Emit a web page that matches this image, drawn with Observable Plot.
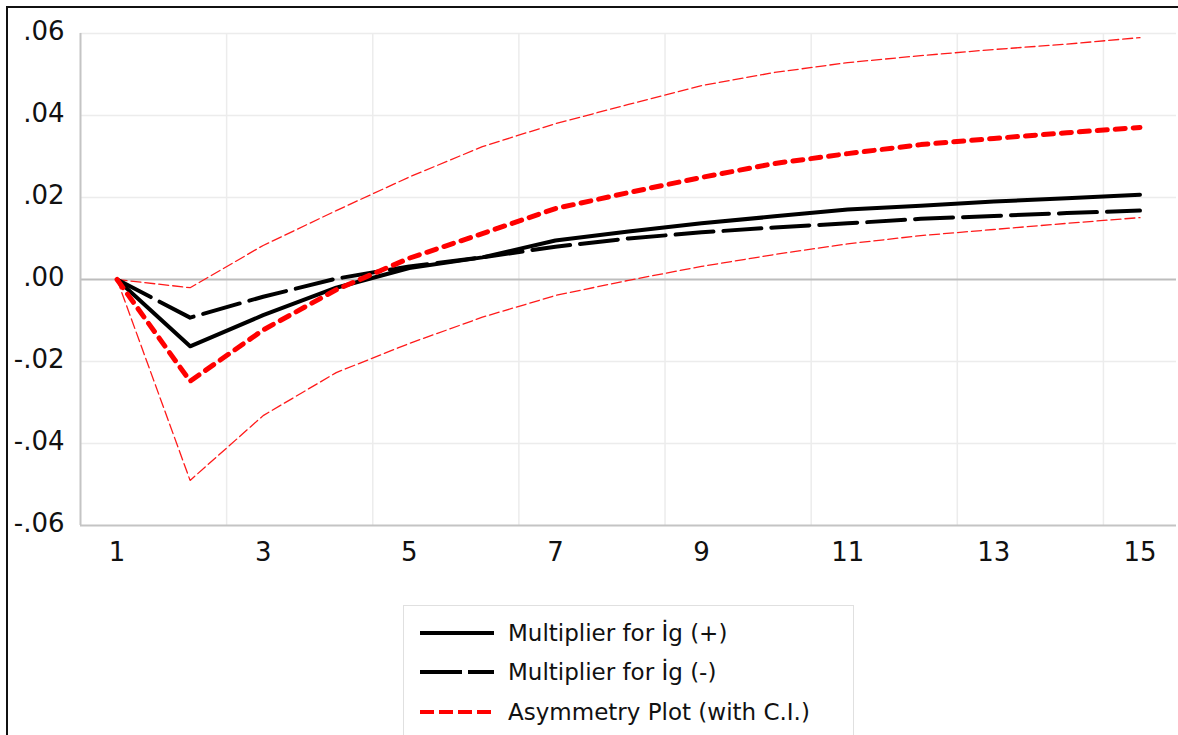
<!DOCTYPE html>
<html>
<head>
<meta charset="utf-8">
<script src="https://cdn.jsdelivr.net/npm/d3@7"></script>
<script src="https://cdn.jsdelivr.net/npm/@observablehq/plot@0.6"></script>
<style>
  html, body { margin: 0; padding: 0; background: #fff; overflow: hidden; }
  #wrap { position: relative; width: 1178px; height: 735px; overflow: hidden; font-family: "DejaVu Sans", Verdana, sans-serif; }
  #frame { position: absolute; left: 6px; top: 6px; width: 1200px; height: 800px; border: 2px solid #111; box-sizing: border-box; pointer-events: none; }
  #chart { position: absolute; left: 0; top: 0; }
  #legend { position: absolute; left: 403px; top: 605px; width: 449px; height: 160px; border: 1px solid #e0e0e0; background: #fff; }
  .row { position: absolute; left: 0; height: 30px; display: flex; align-items: center; }
  .row svg { margin-left: 16px; }
  .row span { margin-left: 14px; font-size: 23px; color: #111; white-space: nowrap; }
</style>
</head>
<body>
<div id="wrap">
  <div id="chart"></div>
  <div id="frame"></div>
  <div id="legend"></div>
</div>
<script>
// ---- data ----
const periods = [1, 2, 3, 4, 5, 6, 7, 8, 9, 10, 11, 12, 13, 14, 15];
const multPos = [0, -0.0163, -0.0087, -0.0020, 0.0028, 0.0054, 0.0095, 0.0117, 0.0137, 0.0154, 0.0171, 0.0180, 0.0190, 0.0198, 0.0207];
const multNeg = [0, -0.0093, -0.0042, 0.0002, 0.0032, 0.0054, 0.0080, 0.0100, 0.0115, 0.0127, 0.0137, 0.0148, 0.0155, 0.0162, 0.0168];
const asym    = [0, -0.0248, -0.0123, -0.0025, 0.0052, 0.0112, 0.0173, 0.0212, 0.0249, 0.0283, 0.0307, 0.0329, 0.0344, 0.0358, 0.0371];
const ciUpper = [0, -0.0020, 0.0083, 0.0168, 0.0250, 0.0324, 0.0380, 0.0427, 0.0473, 0.0505, 0.0529, 0.0546, 0.0561, 0.0574, 0.0590];
const ciLower = [0, -0.0490, -0.0332, -0.0227, -0.0156, -0.0092, -0.0039, -0.0002, 0.0032, 0.0061, 0.0087, 0.0107, 0.0122, 0.0137, 0.0151];
const xTicks = [1, 3, 5, 7, 9, 11, 13, 15];
const xGrid = [2.5, 4.5, 6.5, 8.5, 10.5, 12.5, 14.5];
const yTicks = [-0.06, -0.04, -0.02, 0, 0.02, 0.04, 0.06];
const legendLabels = ["Multiplier for İg (+)", "Multiplier for İg (-)", "Asymmetry Plot (with C.I.)"];

const toRows = (vals) => periods.map((p, i) => ({x: p, y: vals[i]}));
const fmtY = (v) => {
  const s = Math.abs(v).toFixed(2).replace(/^0/, "");
  return (v < -1e-9 ? "-" : "") + s;
};

const font = "DejaVu Sans, Verdana, sans-serif";

const chart = Plot.plot({
  width: 1178,
  height: 735,
  marginLeft: 80,
  marginRight: 2,
  marginTop: 33,
  marginBottom: 210,
  style: {fontFamily: font, fontSize: "26px", color: "#111", background: "transparent"},
  x: {type: "linear", domain: [0.5, 15.5]},
  y: {domain: [-0.06, 0.06]},
  marks: [
    Plot.ruleY(yTicks.filter(d => d !== 0 && d !== -0.06), {stroke: "#ececec", strokeWidth: 1.5}),
    Plot.ruleX(xGrid, {stroke: "#ececec", strokeWidth: 1.5}),
    Plot.ruleY([0], {stroke: "#bdbdbd", strokeWidth: 2}),
    Plot.ruleX([0.5], {stroke: "#c4c4c4", strokeWidth: 2}),
    Plot.ruleY([-0.06], {stroke: "#c4c4c4", strokeWidth: 2}),
    Plot.axisY({ticks: yTicks, tickFormat: fmtY, tickSize: 0, tickPadding: 16, dy: -2, fontSize: 26, label: null}),
    Plot.axisX({ticks: xTicks, tickFormat: d => String(d), tickSize: 0, tickPadding: 17, fontSize: 26, label: null}),
    Plot.line(toRows(ciUpper), {x: "x", y: "y", stroke: "#ff1a1a", strokeWidth: 1.3, strokeDasharray: "10,4"}),
    Plot.line(toRows(ciLower), {x: "x", y: "y", stroke: "#ff1a1a", strokeWidth: 1.3, strokeDasharray: "10,4"}),
    Plot.line(toRows(multNeg), {x: "x", y: "y", stroke: "#000", strokeWidth: 4, strokeDasharray: "38,10"}),
    Plot.line(toRows(multPos), {x: "x", y: "y", stroke: "#000", strokeWidth: 4}),
    Plot.line(toRows(asym), {x: "x", y: "y", stroke: "#ff0000", strokeWidth: 5, strokeDasharray: "10,8"})
  ]
});
document.getElementById("chart").appendChild(chart);

// ---- legend ----
const legendStyles = [
  {stroke: "#000", width: 4, dash: null},
  {stroke: "#000", width: 4, dash: "42,6"},
  {stroke: "#ff0000", width: 4, dash: "14,5"}
];
const rowTops = [617, 656, 696];
const legend = document.getElementById("legend");
legendLabels.forEach((label, i) => {
  const row = document.createElement("div");
  row.className = "row";
  row.style.top = (rowTops[i] - 605) + "px";
  const st = legendStyles[i];
  row.innerHTML = `<svg width="74" height="30"><line x1="0" y1="15" x2="74" y2="15" stroke="${st.stroke}" stroke-width="${st.width}" ${st.dash ? `stroke-dasharray="${st.dash}"` : ""}/></svg><span>${label}</span>`;
  legend.appendChild(row);
});
</script>
</body>
</html>
